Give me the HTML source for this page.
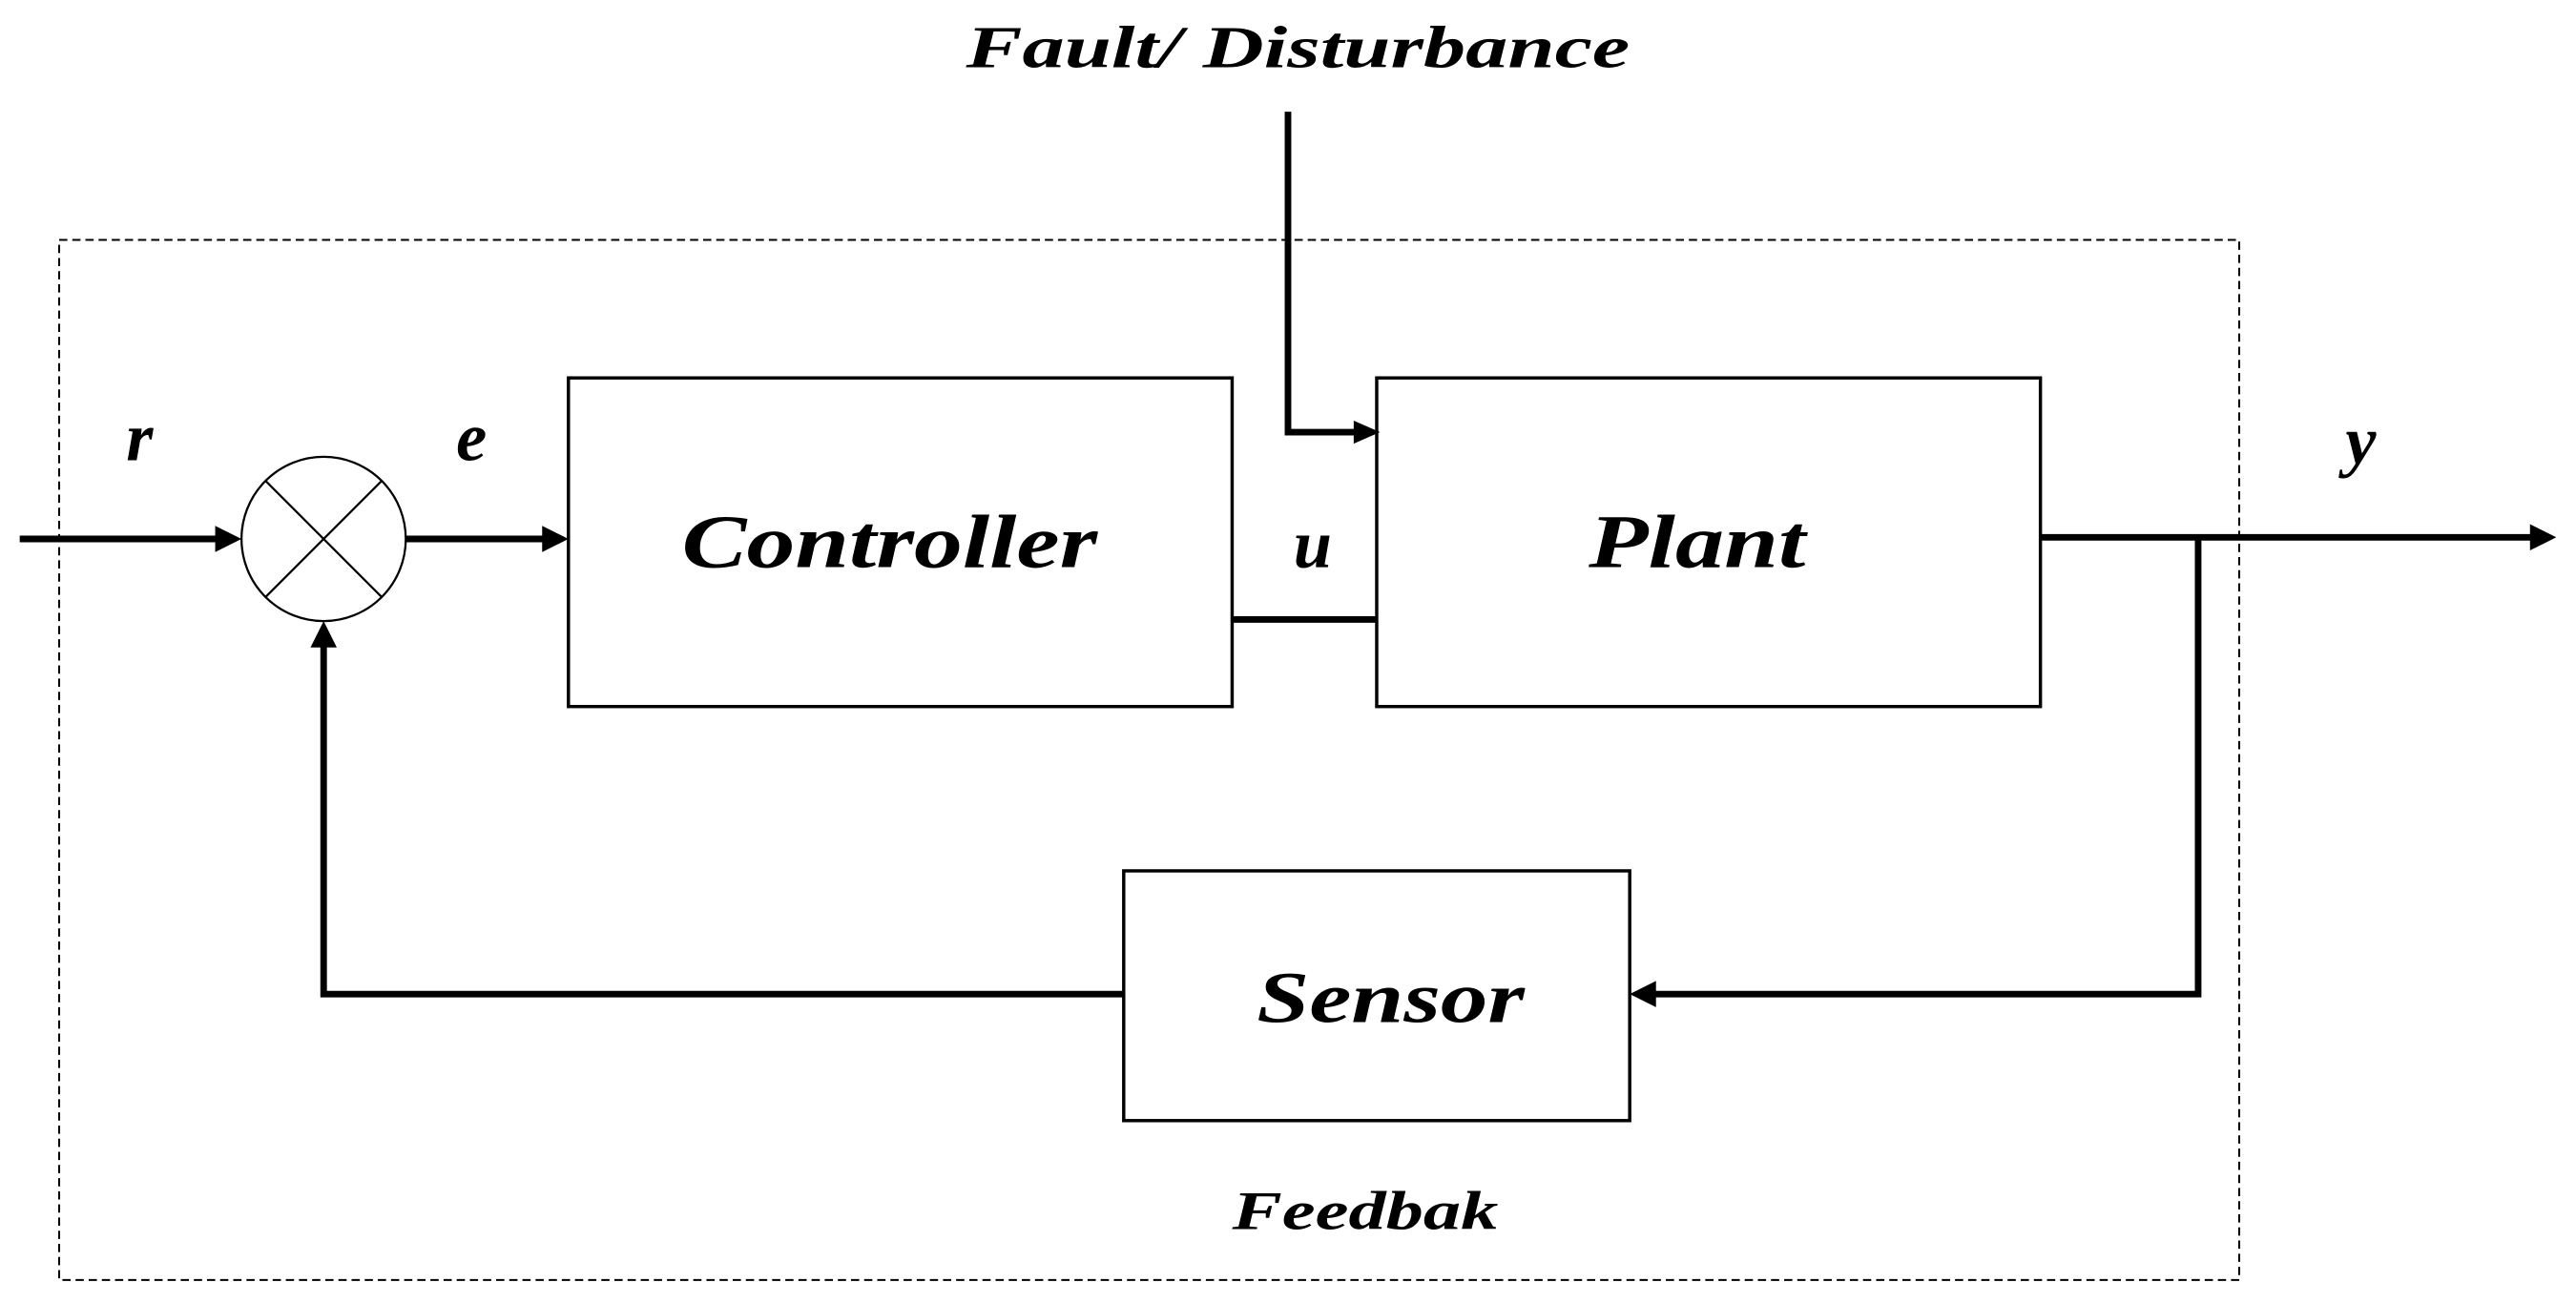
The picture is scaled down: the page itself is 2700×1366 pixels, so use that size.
<!DOCTYPE html>
<html><head><meta charset="utf-8"><style>
html,body{margin:0;padding:0;background:#fff;}
svg{display:block;}
text{font-family:"Liberation Serif",serif;font-weight:bold;font-style:italic;fill:#000;}
</style></head><body>
<svg width="2700" height="1366" viewBox="0 0 1568 793" preserveAspectRatio="none" xmlns="http://www.w3.org/2000/svg">
<rect x="36" y="146" width="1327" height="633" fill="none" stroke="#000" stroke-width="1.2" stroke-dasharray="5,3"/>
<text x="588" y="41" font-size="36" textLength="404" lengthAdjust="spacingAndGlyphs">Fault/ Disturbance</text>
<!-- boxes -->
<rect x="346" y="230" width="404" height="200" fill="none" stroke="#000" stroke-width="2"/>
<rect x="838" y="230" width="404" height="200" fill="none" stroke="#000" stroke-width="2"/>
<rect x="684" y="530" width="308" height="152" fill="none" stroke="#000" stroke-width="2"/>
<text x="415" y="345" font-size="46" textLength="253" lengthAdjust="spacingAndGlyphs">Controller</text>
<text x="967" y="345" font-size="46" textLength="132" lengthAdjust="spacingAndGlyphs">Plant</text>
<text x="765" y="622" font-size="44" textLength="163" lengthAdjust="spacingAndGlyphs">Sensor</text>
<text x="750" y="748" font-size="33" textLength="162" lengthAdjust="spacingAndGlyphs">Feedbak</text>
<text x="85" y="280" font-size="42" text-anchor="middle">r</text>
<text x="287" y="280" font-size="42" text-anchor="middle">e</text>
<text x="799" y="345" font-size="42" text-anchor="middle">u</text>
<text x="1437" y="282" font-size="42" text-anchor="middle">y</text>
<!-- summing junction -->
<circle cx="197" cy="328" r="50" fill="none" stroke="#000" stroke-width="1.3"/>
<line x1="162" y1="293" x2="232" y2="363" stroke="#000" stroke-width="1.3"/>
<line x1="232" y1="293" x2="162" y2="363" stroke="#000" stroke-width="1.3"/>
<g stroke="#000" stroke-width="4" fill="none">
<polyline points="12,328 135,328"/>
<polyline points="247,328 334,328"/>
<polyline points="784,68 784,263 826,263"/>
<polyline points="750,377 838,377"/>
<polyline points="1242,327 1543,327"/>
<polyline points="1338,327 1338,605 1004,605"/>
<polyline points="684,605 197,605 197,390"/>
</g>
<g fill="#000">
<polygon points="147,328 131,320 131,336"/>
<polygon points="346,328 330,320 330,336"/>
<polygon points="840,263 824,256 824,270"/>
<polygon points="1556,327 1540,319 1540,335"/>
<polygon points="992,605 1008,597 1008,613"/>
<polygon points="197,378 189,394 205,394"/>
</g>
</svg>
</body></html>
